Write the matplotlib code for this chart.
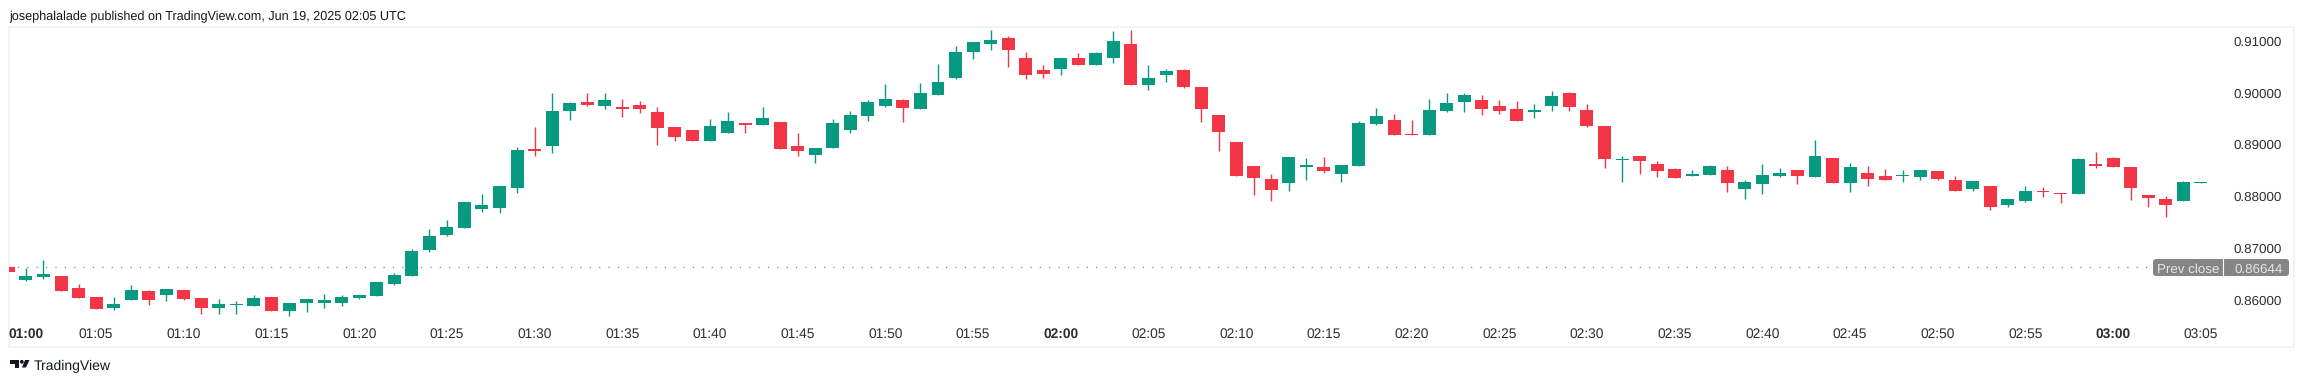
import matplotlib.pyplot as plt
import numpy as np
from matplotlib.patches import FancyBboxPatch, Polygon, Circle

plt.rcParams["text.hinting"] = "no_hinting"

GREEN = "#089981"
RED = "#F23645"
FRAME = "#F3F3F3"
TEXT = "#2E2E2E"
FONT = "Liberation Sans"

PREV_CLOSE = 0.86644

opens = [
    0.86651, 0.86400, 0.86457, 0.86477, 0.86245, 0.86071, 0.85859, 0.86013, 0.86187, 0.86110,
    0.86207, 0.86052, 0.85859, 0.85917, 0.85898, 0.86071, 0.85801, 0.85956, 0.85956, 0.85956,
    0.86052, 0.86091, 0.86322, 0.86477, 0.86979, 0.87268, 0.87403, 0.87770, 0.87790, 0.88176,
    0.88929, 0.88986, 0.89662, 0.89836, 0.89759, 0.89739, 0.89778, 0.89643, 0.89353, 0.89295,
    0.89083, 0.89237, 0.89430, 0.89392, 0.89450, 0.88986, 0.88813, 0.88948, 0.89295, 0.89566,
    0.89759, 0.89874, 0.89701, 0.89971, 0.90299, 0.90801, 0.90956, 0.91071, 0.90685, 0.90454,
    0.90473, 0.90685, 0.90550, 0.90685, 0.90956, 0.90164, 0.90357, 0.90454, 0.90125, 0.89585,
    0.89064, 0.88600, 0.88349, 0.88272, 0.88581, 0.88581, 0.88446, 0.88600, 0.89411, 0.89488,
    0.89218, 0.89199, 0.89662, 0.89836, 0.89874, 0.89759, 0.89701, 0.89643, 0.89759, 0.90010,
    0.89681, 0.89373, 0.88716, 0.88793, 0.88639, 0.88542, 0.88407, 0.88427, 0.88523, 0.88156,
    0.88253, 0.88407, 0.88523, 0.88388, 0.88755, 0.88272, 0.88465, 0.88407, 0.88407, 0.88388,
    0.88504, 0.88330, 0.88156, 0.88214, 0.87847, 0.87925, 0.88118, 0.88079, 0.88060, 0.88639,
    0.88755, 0.88581, 0.88041, 0.87963, 0.87925, 0.88272,
]
highs = [
    0.86651, 0.86631, 0.86786, 0.86477, 0.86322, 0.86071, 0.86071, 0.86303, 0.86207, 0.86226,
    0.86207, 0.86052, 0.86033, 0.85994, 0.86110, 0.86071, 0.85956, 0.86033, 0.86129, 0.86110,
    0.86110, 0.86361, 0.86535, 0.86998, 0.87384, 0.87558, 0.87905, 0.88060, 0.88214, 0.88967,
    0.89353, 0.90010, 0.89836, 0.90010, 0.90010, 0.89894, 0.89855, 0.89739, 0.89353, 0.89295,
    0.89508, 0.89643, 0.89430, 0.89739, 0.89450, 0.89237, 0.88948, 0.89508, 0.89662, 0.89874,
    0.90183, 0.89894, 0.90203, 0.90569, 0.90917, 0.90994, 0.91226, 0.91110, 0.90801, 0.90550,
    0.90685, 0.90782, 0.90801, 0.91207, 0.91226, 0.90550, 0.90473, 0.90473, 0.90125, 0.89585,
    0.89064, 0.88600, 0.88446, 0.88774, 0.88755, 0.88774, 0.88620, 0.89469, 0.89720, 0.89604,
    0.89488, 0.89894, 0.90010, 0.90010, 0.89971, 0.89874, 0.89855, 0.89797, 0.90048, 0.90029,
    0.89797, 0.89373, 0.88793, 0.88793, 0.88697, 0.88562, 0.88523, 0.88620, 0.88600, 0.88330,
    0.88639, 0.88562, 0.88523, 0.89102, 0.88755, 0.88658, 0.88600, 0.88542, 0.88523, 0.88523,
    0.88504, 0.88407, 0.88311, 0.88214, 0.87963, 0.88214, 0.88195, 0.88079, 0.88755, 0.88871,
    0.88774, 0.88581, 0.88041, 0.88021, 0.88311, 0.88291,
]
lows = [
    0.86554, 0.86380, 0.86419, 0.86187, 0.86052, 0.85840, 0.85820, 0.86013, 0.85917, 0.85994,
    0.86013, 0.85743, 0.85743, 0.85743, 0.85898, 0.85801, 0.85705, 0.85782, 0.85859, 0.85898,
    0.86033, 0.86091, 0.86303, 0.86477, 0.86940, 0.87249, 0.87403, 0.87712, 0.87693, 0.88079,
    0.88793, 0.88851, 0.89488, 0.89759, 0.89701, 0.89546, 0.89624, 0.89006, 0.89083, 0.89083,
    0.89083, 0.89237, 0.89237, 0.89392, 0.88929, 0.88793, 0.88658, 0.88948, 0.89237, 0.89469,
    0.89739, 0.89450, 0.89701, 0.89971, 0.90280, 0.90666, 0.90840, 0.90512, 0.90280, 0.90299,
    0.90357, 0.90550, 0.90550, 0.90589, 0.90164, 0.90068, 0.90222, 0.90106, 0.89450, 0.88890,
    0.88407, 0.88041, 0.87925, 0.88118, 0.88330, 0.88465, 0.88291, 0.88600, 0.89392, 0.89199,
    0.89199, 0.89199, 0.89643, 0.89643, 0.89585, 0.89604, 0.89469, 0.89527, 0.89662, 0.89662,
    0.89353, 0.88562, 0.88291, 0.88446, 0.88388, 0.88369, 0.88407, 0.88427, 0.88098, 0.87963,
    0.88060, 0.88388, 0.88253, 0.88388, 0.88272, 0.88098, 0.88214, 0.88330, 0.88291, 0.88330,
    0.88330, 0.88118, 0.88118, 0.87751, 0.87809, 0.87905, 0.88002, 0.87886, 0.88060, 0.88562,
    0.88581, 0.87944, 0.87809, 0.87616, 0.87925, 0.88272,
]
closes = [
    0.86554, 0.86477, 0.86515, 0.86187, 0.86052, 0.85840, 0.85936, 0.86207, 0.86013, 0.86226,
    0.86033, 0.85859, 0.85936, 0.85936, 0.86052, 0.85801, 0.85956, 0.86033, 0.86013, 0.86071,
    0.86110, 0.86361, 0.86496, 0.86959, 0.87249, 0.87423, 0.87905, 0.87847, 0.88214, 0.88909,
    0.88890, 0.89662, 0.89817, 0.89778, 0.89874, 0.89701, 0.89701, 0.89334, 0.89160, 0.89083,
    0.89373, 0.89469, 0.89392, 0.89527, 0.88929, 0.88890, 0.88948, 0.89430, 0.89585, 0.89836,
    0.89894, 0.89720, 0.90010, 0.90222, 0.90801, 0.90994, 0.91033, 0.90840, 0.90357, 0.90376,
    0.90685, 0.90550, 0.90782, 0.91013, 0.90164, 0.90299, 0.90434, 0.90125, 0.89701, 0.89257,
    0.88407, 0.88369, 0.88137, 0.88774, 0.88620, 0.88504, 0.88620, 0.89430, 0.89566, 0.89199,
    0.89199, 0.89681, 0.89817, 0.89971, 0.89701, 0.89662, 0.89469, 0.89681, 0.89952, 0.89739,
    0.89373, 0.88736, 0.88736, 0.88697, 0.88504, 0.88369, 0.88446, 0.88600, 0.88272, 0.88291,
    0.88427, 0.88465, 0.88407, 0.88793, 0.88272, 0.88581, 0.88349, 0.88330, 0.88427, 0.88523,
    0.88349, 0.88118, 0.88311, 0.87809, 0.87963, 0.88118, 0.88098, 0.88060, 0.88736, 0.88600,
    0.88581, 0.88176, 0.87983, 0.87847, 0.88291, 0.88291,
]

time_labels = [
    "01:00", "01:05", "01:10", "01:15", "01:20", "01:25", "01:30", "01:35", "01:40", "01:45",
    "01:50", "01:55", "02:00", "02:05", "02:10", "02:15", "02:20", "02:25", "02:30", "02:35",
    "02:40", "02:45", "02:50", "02:55", "03:00", "03:05",
]
price_ticks = [0.86, 0.87, 0.88, 0.89, 0.90, 0.91]

W, H = 2304, 382

fig = plt.figure(figsize=(W / 100, H / 100), dpi=100, facecolor="white")
ax = fig.add_axes([9 / W, 1 - 347 / H, (2294 - 9) / W, (347 - 27) / H])

x = np.arange(len(opens))
o = np.array(opens)
c = np.array(closes)
colors = [GREEN if b >= a else RED for a, b in zip(opens, closes)]

ax.vlines(x, lows, highs, colors=colors, linewidth=1.0, zorder=2)
ax.bar(x, np.abs(c - o), bottom=np.minimum(o, c), width=0.74, color=colors, linewidth=0, zorder=3)

ax.set_xlim(0.034, 130.31)
ax.set_ylim(0.85106, 0.91284)
ax.set_xticks([])
ax.set_yticks([])
for spine in ax.spines.values():
    spine.set_color(FRAME)
    spine.set_linewidth(1.44)

# previous close line stops at the badge
ax.plot([0, 122.5], [PREV_CLOSE, PREV_CLOSE], color="#868993", linewidth=0.9,
        linestyle=(0, (1, 6.5)), zorder=1)

for i, label in enumerate(time_labels):
    bold = label.endswith(":00")
    # the first label is pushed right so it fits in the frame
    pos = i * 5 if i else 1.03
    ax.text(pos, 0.028, label, transform=ax.get_xaxis_transform(), ha="center", va="baseline",
            fontsize=9.9, family=FONT, color=TEXT, fontweight="bold" if bold else "normal")

for p in price_ticks:
    ax.annotate(f"{p:.5f}", (1, p), xycoords=ax.get_yaxis_transform(), xytext=(-12, -4),
                textcoords="offset pixels", ha="right", va="baseline", fontsize=9.6,
                family=FONT, color=TEXT)

# overlay in pixel coordinates for title, badge and footer
top = fig.add_axes([0, 0, 1, 1], facecolor="none")
top.set_xlim(0, W)
top.set_ylim(H, 0)
top.axis("off")

top.text(9.5, 20, "josephalalade published on TradingView.com, Jun 19, 2025 02:05 UTC",
         ha="left", va="baseline", fontsize=9.1, family=FONT, color="#131722")

top.add_patch(FancyBboxPatch((2156, 262), 130, 11, boxstyle="round,pad=3,rounding_size=3",
                             facecolor="#858585", edgecolor="none", zorder=3))
top.plot([2223, 2223], [259, 276], color="white", linewidth=0.8, zorder=4)
top.text(2188, 272.5, "Prev close", ha="center", va="baseline", fontsize=9.6, family=FONT,
         color="#E6E6E6", zorder=5)
top.text(2258.5, 272.5, "0.86644", ha="center", va="baseline", fontsize=9.6, family=FONT,
         color="#E6E6E6", zorder=5)

# TradingView logo
top.add_patch(Polygon([(10, 360), (19.3, 360), (19.3, 367.5), (14.7, 367.5), (14.7, 363.5), (10, 363.5)],
                      facecolor="#131722", edgecolor="none"))
top.add_patch(Circle((21.8, 361.8), 1.9, facecolor="#131722", edgecolor="none"))
top.add_patch(Polygon([(25, 360), (29.5, 360), (26, 367.5), (22, 367.5)],
                      facecolor="#131722", edgecolor="none"))
top.text(34, 370.5, "TradingView", ha="left", va="baseline", fontsize=10.1, family=FONT,
         color="#131722")

fig.savefig("out.png", dpi=100)
